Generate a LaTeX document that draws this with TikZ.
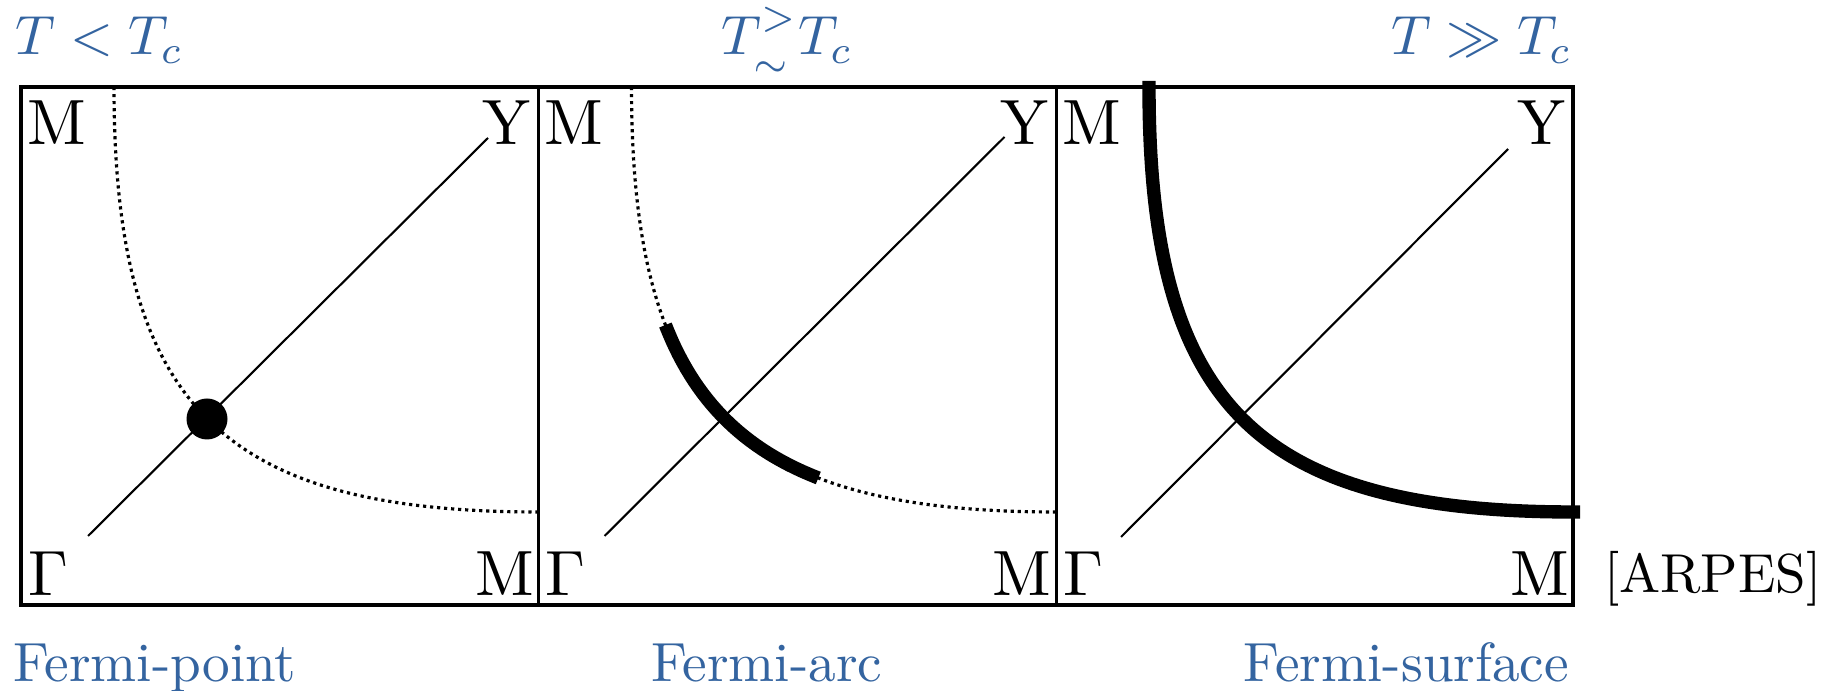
\documentclass[tikz,border=0pt]{standalone}
\definecolor{titleblue}{RGB}{52,100,160}
\tikzset{
  frame/.style={line width=1.1pt},
  divider/.style={line width=0.85pt},
  nodal/.style={line width=0.6pt},
  gapped/.style={line width=0.9pt, dash pattern=on 0.9pt off 1.1pt},
  fsarc/.style={line width=3.8pt},
  corner/.style={inner sep=0pt, font=\fontsize{10}{12}\selectfont, scale=1.82, transform shape},
  caption/.style={inner sep=0pt, text=titleblue, font=\fontsize{10}{12}\selectfont, scale=1.57, transform shape},
}
\begin{document}
\begin{tikzpicture}[x=0.01cm,y=0.01cm]
\useasboundingbox (0,0) rectangle (1836,691);
% the three Brillouin-zone quadrants
\draw[frame] (21,86) rectangle (1573,604);
\draw[divider] (538.5,86) -- (538.5,604);
\draw[divider] (1056,86) -- (1056,604);
\foreach \i/\sx/\sy/\ex/\ey in {0/67/69/467/467,1/66/69/466/468,2/65/68/452/456} {
  \begin{scope}[shift={({21+517.5*\i},86)}]
    \draw[nodal] (\sx,\sy) -- (\ex,\ey);
    \node[corner, anchor=north west] (mtop\i) at (5,505) {M};
    \node[corner, anchor=north east] (y\i) at (511,505) {Y};
    \node[corner, anchor=south west] (gam\i) at (6,8) {$\Gamma$};
    \node[corner, anchor=south east] (mbot\i) at (514,8) {M};
  \end{scope}
}
% T < Tc: only the nodal point
\begin{scope}[shift={(21,86)}]
  \draw[gapped] (93,518) .. controls (93,200) and (200,93) .. (518,93);
  \fill (186,186) circle[radius=20.5];
\end{scope}
% T just above Tc: an arc
\begin{scope}[shift={(538.5,86)}]
  \draw[gapped] (93,518) .. controls (93,200) and (200,93) .. (518,93);
  \draw[fsarc] plot[domain=0.31:0.69, samples=30, variable=\t]
    ({93*(1-\t)^3+279*(1-\t)^2*\t+600*(1-\t)*\t^2+518*\t^3},
     {518*(1-\t)^3+600*(1-\t)^2*\t+279*(1-\t)*\t^2+93*\t^3});
\end{scope}
% T >> Tc: full surface
\begin{scope}[shift={(1056,86)}]
  \draw[fsarc] (93,524) -- (93,518) .. controls (93,200) and (200,93) .. (518,93) -- (524,93);
\end{scope}
% labels
\node[caption, anchor=base west] (tbelow) at (14,636) {$T<T_c$};
\node[caption, anchor=base] (tnear) at (787,636)
  {$T^{\raisebox{1pt}{$\scriptstyle>$}}_{\raisebox{-1.5pt}{$\scriptstyle\sim$}}T_c$};
\node[caption, anchor=base east] (tabove) at (1573,636) {$T\gg T_c$};
\node[caption, anchor=base west] (fpoint) at (12,9) {Fermi-point};
\node[caption, anchor=base west] (farc) at (650,9) {Fermi-arc};
\node[caption, anchor=base east] (fsurf) at (1570,9) {Fermi-surface};
\node[anchor=base west, inner sep=0pt, font=\fontsize{10}{12}\selectfont, scale=1.56, transform shape] (arpes) at (1603,98) {[ARPES]};
\end{tikzpicture}
\end{document}
